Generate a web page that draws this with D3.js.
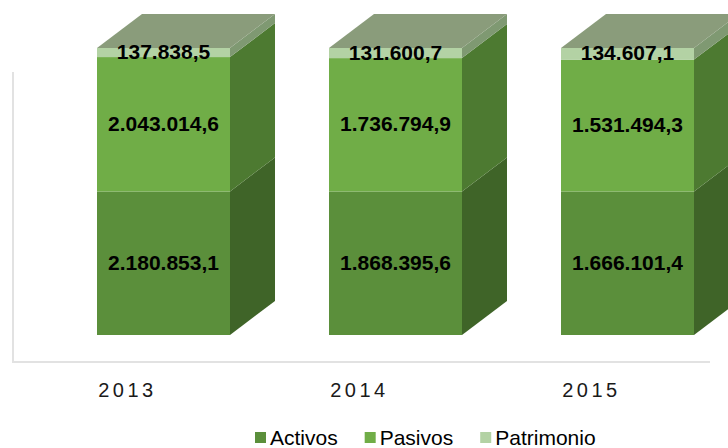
<!DOCTYPE html>
<html>
<head>
<meta charset="utf-8">
<script src="https://cdn.jsdelivr.net/npm/d3@7"></script>
<style>
  body { margin: 0; background: #ffffff; }
  svg { display: block; font-family: "Liberation Sans", Arial, sans-serif; }
</style>
</head>
<body>
<div id="chart"></div>
<script>
// data
var years = ["2013", "2014", "2015"];
var seriesNames = ["Activos", "Pasivos", "Patrimonio"];
var activos = [2180853.1, 1868395.6, 1666101.4];
var pasivos = [2043014.6, 1736794.9, 1531494.3];
var patrimonio = [137838.5, 131600.7, 134607.1];
var labelText = {
  Activos: ["2.180.853,1", "1.868.395,6", "1.666.101,4"],
  Pasivos: ["2.043.014,6", "1.736.794,9", "1.531.494,3"],
  Patrimonio: ["137.838,5", "131.600,7", "134.607,1"]
};

var frontColor = { Activos: "#5b8f3b", Pasivos: "#70ad47", Patrimonio: "#b3d2a4" };
var sideColor  = { Activos: "#3f6428", Pasivos: "#4d7a31", Patrimonio: "#7f9972" };
var topColor = "#8a9c7b";

var width = 728, height = 448;
var depthX = 45, depthY = -34;

var rows = years.map(function(y, i) {
  return { year: y, Activos: activos[i], Pasivos: pasivos[i], Patrimonio: patrimonio[i] };
});

var stack = d3.stack()
  .keys(seriesNames)
  .offset(d3.stackOffsetExpand);
var layers = stack(rows);

var x = d3.scaleBand()
  .domain(years)
  .range([97, 694])
  .paddingInner(0.4267)
  .paddingOuter(0);

var y = d3.scaleLinear()
  .domain([0, 1])
  .range([335, 48]);

var svg = d3.select("#chart").append("svg")
  .attr("width", width)
  .attr("height", height);

// plot area lines
svg.append("line")
  .attr("x1", 13).attr("x2", 13)
  .attr("y1", 72).attr("y2", 362)
  .attr("stroke", "#e2e2e2").attr("stroke-width", 2);
svg.append("line")
  .attr("x1", 12).attr("x2", 710)
  .attr("y1", 362).attr("y2", 362)
  .attr("stroke", "#e2e2e2").attr("stroke-width", 2);

var bw = x.bandwidth();

function poly(pts) {
  return "M" + pts.map(function(p){ return p[0] + "," + p[1]; }).join("L") + "Z";
}

var bars = svg.append("g");

layers.forEach(function(layer) {
  var key = layer.key;
  var g = bars.append("g").attr("class", "layer-" + key);

  // side faces
  g.selectAll("path.side")
    .data(layer)
    .enter().append("path")
    .attr("class", "side")
    .attr("fill", sideColor[key])
    .attr("d", function(d) {
      var xr = x(d.data.year) + bw;
      var y0 = y(d[0]), y1 = y(d[1]);
      return poly([[xr, y1], [xr + depthX, y1 + depthY], [xr + depthX, y0 + depthY], [xr, y0]]);
    });

  // front faces
  g.selectAll("rect.front")
    .data(layer)
    .enter().append("rect")
    .attr("class", "front")
    .attr("x", function(d){ return x(d.data.year); })
    .attr("y", function(d){ return y(d[1]); })
    .attr("width", bw)
    .attr("height", function(d){ return y(d[0]) - y(d[1]); })
    .attr("fill", frontColor[key]);
});

// top faces
var topLayer = layers[layers.length - 1];
bars.selectAll("path.top")
  .data(topLayer)
  .enter().append("path")
  .attr("class", "top")
  .attr("fill", topColor)
  .attr("d", function(d) {
    var xl = x(d.data.year), yt = y(d[1]);
    return poly([[xl, yt], [xl + depthX, yt + depthY], [xl + bw + depthX, yt + depthY], [xl + bw, yt]]);
  });

// value labels
layers.forEach(function(layer) {
  var key = layer.key;
  svg.append("g").selectAll("text")
    .data(layer)
    .enter().append("text")
    .attr("x", function(d){ return x(d.data.year) + bw / 2; })
    .attr("y", function(d){ return (y(d[0]) + y(d[1])) / 2 + 1; })
    .attr("text-anchor", "middle")
    .attr("dominant-baseline", "middle")
    .attr("font-size", "21px")
    .attr("font-weight", "bold")
    .attr("fill", "#000")
    .text(function(d, i){ return labelText[key][i]; });
});

// category labels
svg.append("g").selectAll("text")
  .data(years)
  .enter().append("text")
  .attr("x", function(d){ return x(d) + bw / 2 - 36; })
  .attr("y", 397)
  .attr("text-anchor", "middle")
  .attr("font-size", "20px")
  .attr("letter-spacing", "3.5px")
  .attr("fill", "#1a1a1a")
  .text(function(d){ return d; });

// legend
var legend = svg.append("g");
var lx = 255;
seriesNames.forEach(function(name) {
  legend.append("rect")
    .attr("x", lx).attr("y", 432)
    .attr("width", 11).attr("height", 11)
    .attr("fill", frontColor[name]);
  var t = legend.append("text")
    .attr("x", lx + 15).attr("y", 445)
    .attr("font-size", "21px")
    .attr("fill", "#000")
    .text(name);
  lx = lx + 15 + t.node().getComputedTextLength() + 27;
});
</script>
</body>
</html>
